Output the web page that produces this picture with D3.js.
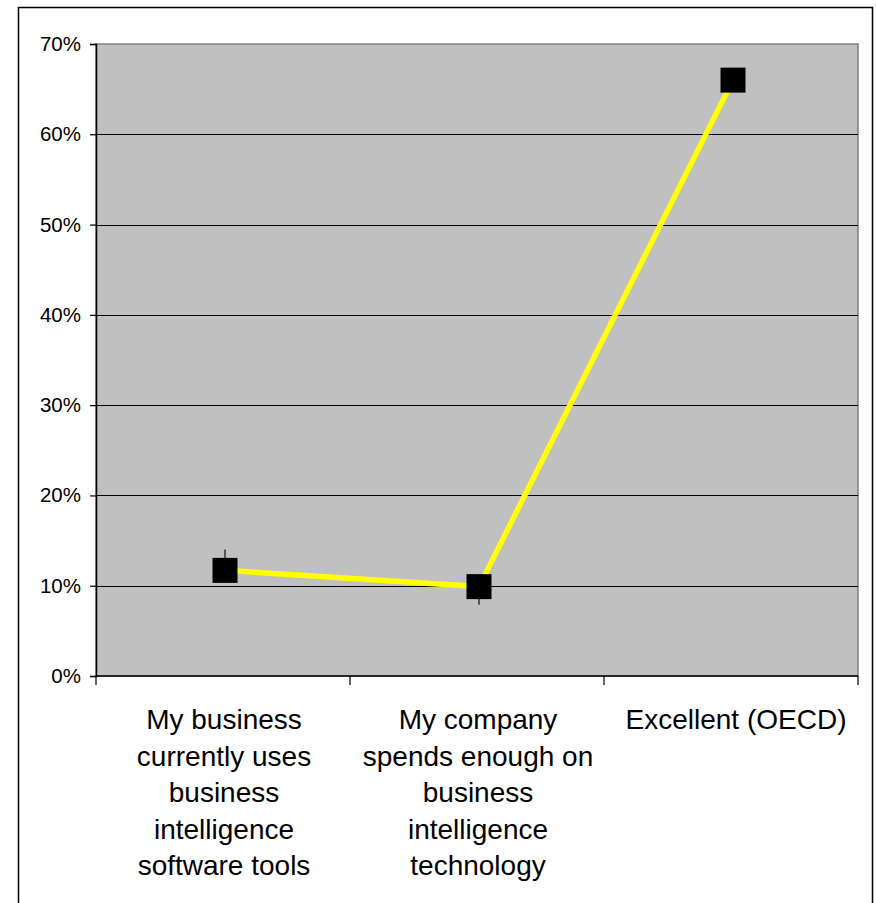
<!DOCTYPE html>
<html>
<head>
<meta charset="utf-8">
<script src="https://cdn.jsdelivr.net/npm/d3@7"></script>
<style>
    body { margin: 0; background: #fff; }
    svg { display: block; font-family: "Liberation Sans", Arial, sans-serif; }
</style>
</head>
<body>
<div id="chart"></div>
<script>
// chart data
let categories = ["cat1", "cat2", "cat3"];
let categoryLines = [
    ["My business", "currently uses", "business", "intelligence", "software tools"],
    ["My company", "spends enough on", "business", "intelligence", "technology"],
    ["Excellent (OECD)"]
];
let values = [0.117, 0.099, 0.66];
let errUp = [0.023, 0, 0];
let errDown = [0, 0.02, 0];
let yTicks = [0, 0.1, 0.2, 0.3, 0.4, 0.5, 0.6, 0.7];

function init() {
    const w = 876;
    const h = 903;
    const left = 96, right = 858, top = 44, bottom = 676;

    var svg = d3.select("#chart")
        .append("svg")
        .attr("width", w)
        .attr("height", h);

    // outer frame (bottom runs off the picture)
    svg.append("rect")
        .attr("x", 18.5)
        .attr("y", 7.5)
        .attr("width", 854)
        .attr("height", 920)
        .attr("fill", "none")
        .attr("stroke", "#000")
        .attr("stroke-width", 1.5);

    var x = d3.scaleBand()
        .domain(categories)
        .range([left, right])
        .padding(0);

    var y = d3.scaleLinear()
        .domain([0, 0.7])
        .range([bottom, top]);

    // plot background
    svg.append("rect")
        .attr("x", left)
        .attr("y", top)
        .attr("width", right - left)
        .attr("height", bottom - top)
        .attr("fill", "#c0c0c0")
        .attr("stroke", "#808080")
        .attr("stroke-width", 1.5);

    // gridlines
    svg.append("g")
        .selectAll("line")
        .data(yTicks.filter(d => d > 0 && d < 0.7))
        .enter()
        .append("line")
        .attr("x1", left)
        .attr("x2", right)
        .attr("y1", d => Math.round(y(d)) + 0.5)
        .attr("y2", d => Math.round(y(d)) + 0.5)
        .attr("stroke", "#000")
        .attr("stroke-width", 1.2);

    // y axis
    var yAxis = d3.axisLeft(y)
        .tickValues(yTicks)
        .tickFormat(d3.format(".0%"))
        .tickSize(6)
        .tickPadding(9);

    var gy = svg.append("g")
        .attr("transform", "translate(" + left + ",0)")
        .call(yAxis);
    gy.select(".domain").attr("stroke", "#000").attr("stroke-width", 1.5);
    gy.selectAll(".tick line").attr("stroke", "#000").attr("stroke-width", 1.2);
    gy.selectAll(".tick text")
        .attr("font-size", "20.5px")
        .attr("fill", "#000")
        .attr("font-family", "Liberation Sans, Arial, sans-serif");

    // x axis: ticks at category boundaries
    var bounds = categories.map(c => x(c)).concat([right]);
    svg.append("line")
        .attr("x1", left)
        .attr("x2", right)
        .attr("y1", bottom)
        .attr("y2", bottom)
        .attr("stroke", "#000")
        .attr("stroke-width", 1.5);
    svg.append("g")
        .selectAll("line")
        .data(bounds)
        .enter()
        .append("line")
        .attr("x1", d => d)
        .attr("x2", d => d)
        .attr("y1", bottom)
        .attr("y2", bottom + 9)
        .attr("stroke", "#000")
        .attr("stroke-width", 1.2);

    // category labels
    var labels = svg.append("g");
    categories.forEach(function (c, i) {
        var lx = x(c) + x.bandwidth() / 2 + (i === 2 ? 5 : 1);
        var t = labels.append("text")
            .attr("x", lx)
            .attr("y", 729)
            .attr("text-anchor", "middle")
            .attr("font-size", "28px")
            .attr("fill", "#000");
        t.selectAll("tspan")
            .data(categoryLines[i])
            .enter()
            .append("tspan")
            .attr("x", lx)
            .attr("dy", (d, j) => j === 0 ? 0 : 36.5)
            .text(d => d);
    });

    var cx = d => x(d) + x.bandwidth() / 2 + 2;

    // error bars
    svg.append("g")
        .selectAll("line")
        .data(categories)
        .enter()
        .append("line")
        .attr("x1", cx)
        .attr("x2", cx)
        .attr("y1", (d, i) => y(values[i] + errUp[i]))
        .attr("y2", (d, i) => y(values[i] - errDown[i]))
        .attr("stroke", "#333")
        .attr("stroke-width", 1.5);

    // line
    var line = d3.line()
        .x((d, i) => cx(categories[i]))
        .y(d => y(d));

    svg.append("path")
        .datum(values)
        .attr("d", line)
        .attr("fill", "none")
        .attr("stroke", "#ffff00")
        .attr("stroke-width", 5.5);

    // markers
    var size = 25;
    svg.append("g")
        .selectAll("rect")
        .data(values)
        .enter()
        .append("rect")
        .attr("x", (d, i) => cx(categories[i]) - size / 2)
        .attr("y", d => y(d) - size / 2)
        .attr("width", size)
        .attr("height", size)
        .attr("fill", "#000");
}

window.onload = init;
</script>
</body>
</html>
